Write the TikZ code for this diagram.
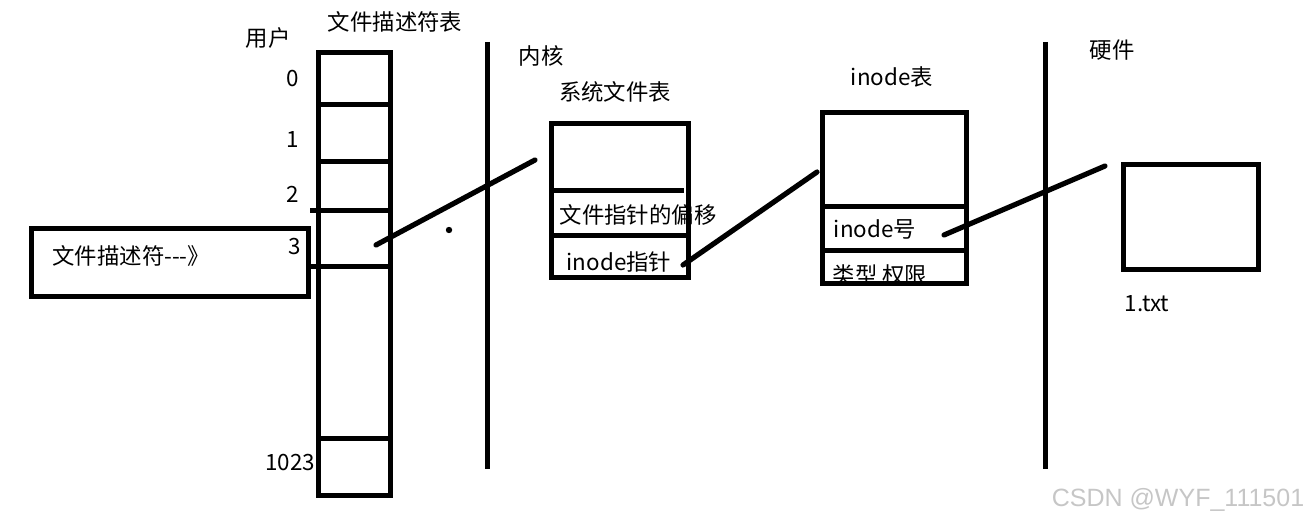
\documentclass[tikz,border=0pt]{standalone}
\usepackage{fontspec}
\usepackage{tikz}
\usetikzlibrary{positioning}
\newfontfamily\cjk{Noto Sans CJK SC}
\newfontfamily\marksf{Liberation Sans}

\tikzset{
    box/.style={draw, line width=2.5pt, inner sep=0pt, anchor=north west},
    wall/.style={line width=2.5pt},
    link/.style={line width=2.6pt, line cap=round},
    lbl/.style={inner sep=0pt}
}

\begin{document}
\begin{tikzpicture}[x=0.5pt, y=-0.5pt, font=\cjk\fontsize{11.2}{13}\selectfont]
    \useasboundingbox (0,0) rectangle (1309,524);

    % user side
    \node[box, minimum width=36pt, minimum height=221.5pt] (fdtab) at (316,50) {};
    \foreach \y in {104,161,438}
        \draw[wall] (316,\y) -- (388,\y);
    \foreach \y in {210,266}
        \draw[wall] (310,\y) -- (388,\y);
    \node[lbl] (user) at (268,38) {用户};
    \node[lbl] (fdname) at (395,22) {文件描述符表};
    \node[lbl] (n0) at (293,79) {0};
    \node[lbl] (n1) at (293,140) {1};
    \node[lbl] (n2) at (293,194) {2};
    \node[lbl] (n3) at (295,247) {3};
    \node[lbl] (n1023) at (290,463) {1023};
    \node[box, minimum width=138.5pt, minimum height=34pt] (fdbox) at (29,226) {};
    \node[lbl, anchor=west] (fdtext) at (52,256) {文件描述符---》};

    \coordinate (utop) at (487,42);
    \coordinate (ubot) at (487,469);
    \draw[wall] (utop) -- (ubot);

    % kernel
    \node[lbl] (kernel) at (541,56) {内核};
    \node[lbl] (sysname) at (615,92) {系统文件表};
    \node[box, minimum width=68.5pt, minimum height=77pt] (systab) at (549,121) {};
    \draw[wall] (549,190) -- (684,190);
    \draw[wall] (549,235) -- (686,235);
    \node[lbl] (offset) at (638,215) {文件指针的偏移};
    \node[lbl] (iptr) at (619,262) {inode指针};

    \node[lbl] (inodename) at (892,77) {inode表};
    \node[box, minimum width=72pt, minimum height=85.5pt] (inodetab) at (820,110) {};
    \draw[wall] (820,206) -- (964,206);
    \draw[wall] (820,250) -- (968,250);
    \node[lbl] (ino) at (875,229) {inode号};
    \node[lbl] (perm) at (880,275) {类型 权限};

    \coordinate (htop) at (1045,42);
    \coordinate (hbot) at (1045,469);
    \draw[wall] (htop) -- (hbot);

    % hardware
    \node[lbl] (hw) at (1112,50) {硬件};
    \node[box, minimum width=67.5pt, minimum height=52.5pt] (file) at (1121,162) {};
    \node[lbl] (fname) at (1147,304) {1.txt};

    % links
    \coordinate (fd3) at (376,245);
    \coordinate (sysin) at (535,160);
    \coordinate (iptrend) at (683,265);
    \coordinate (inodein) at (817,172);
    \coordinate (inoend) at (944,235);
    \coordinate (filein) at (1105,166);
    \draw[link] (fd3) -- (sysin);
    \draw[link] (iptrend) -- (inodein);
    \draw[link] (inoend) -- (filein);
    \fill (449,230) circle (1.6pt);

    \node[lbl, text=gray!45, font=\marksf\fontsize{12.5}{14}\selectfont] (mark) at (1178,500) {CSDN @WYF\_111501};
\end{tikzpicture}
\end{document}
